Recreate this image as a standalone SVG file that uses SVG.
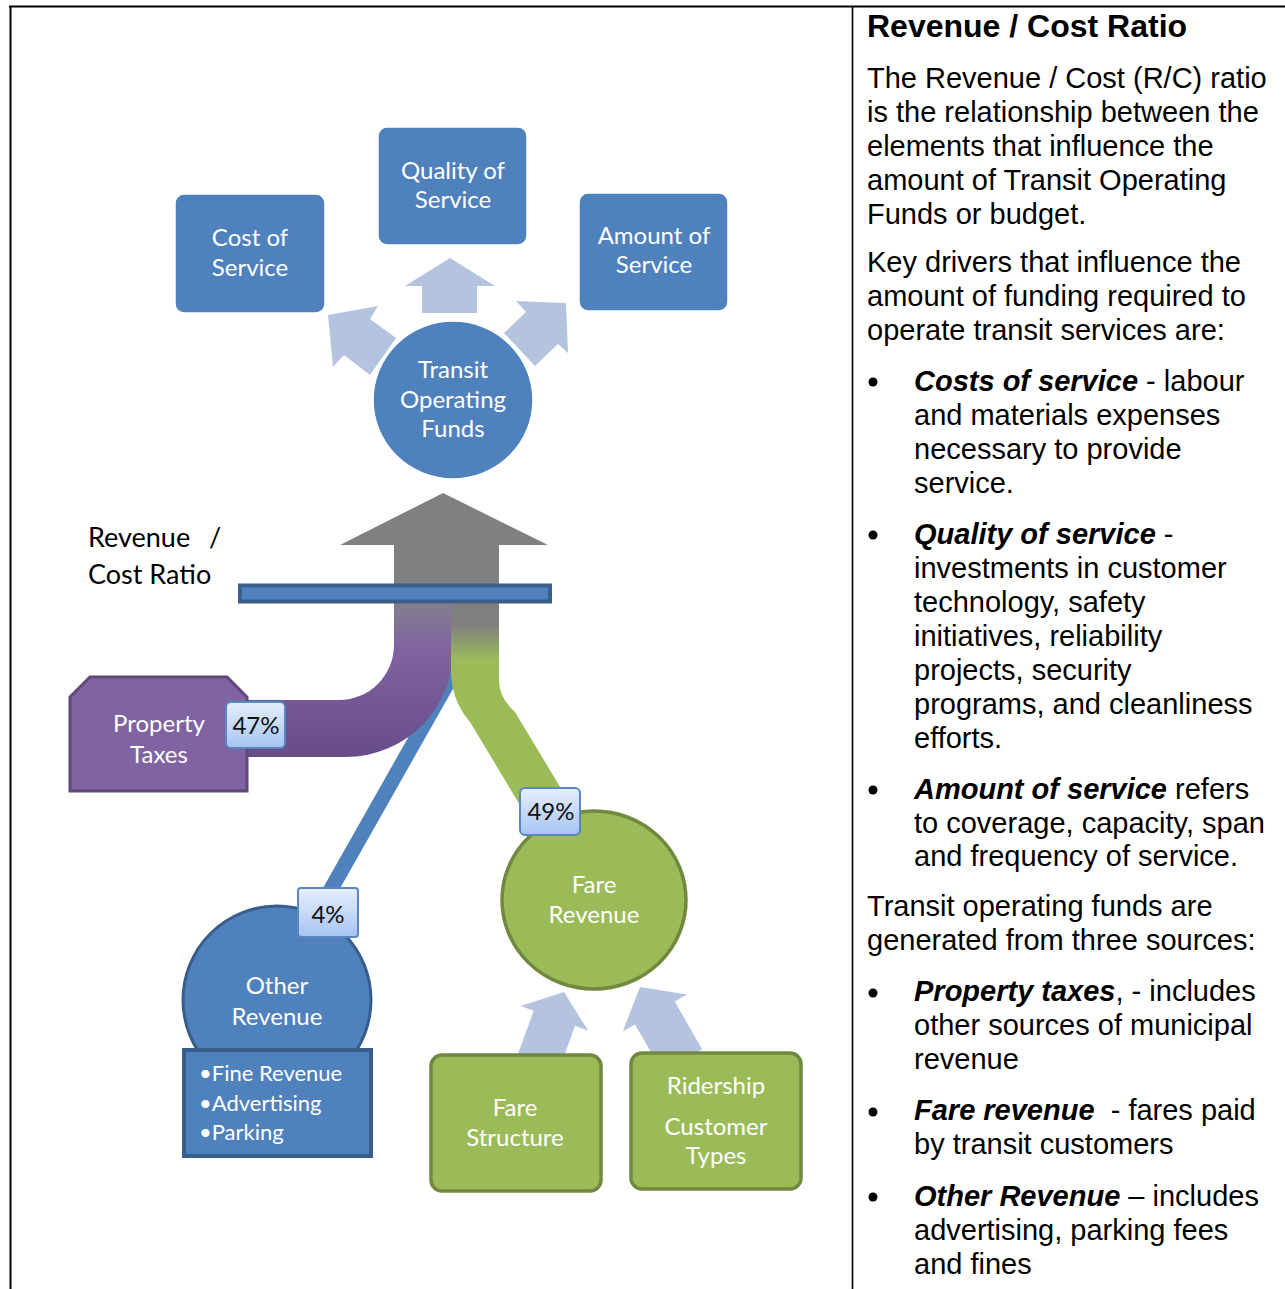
<svg xmlns="http://www.w3.org/2000/svg" width="1285" height="1289" viewBox="0 0 1285 1289">
<defs>
<linearGradient id="gPurple" gradientUnits="userSpaceOnUse" x1="0" y1="600" x2="0" y2="757">
<stop offset="0" stop-color="#84808a"/>
<stop offset="0.3" stop-color="#8064A2"/>
<stop offset="1" stop-color="#684c88"/>
</linearGradient>
<linearGradient id="gGreen" gradientUnits="userSpaceOnUse" x1="0" y1="600" x2="0" y2="700">
<stop offset="0" stop-color="#808080"/>
<stop offset="0.25" stop-color="#808080"/>
<stop offset="0.6" stop-color="#9BBB59"/>
<stop offset="1" stop-color="#9BBB59"/>
</linearGradient>
<linearGradient id="gLabel" x1="0" y1="0" x2="0" y2="1">
<stop offset="0" stop-color="#e6effc"/>
<stop offset="1" stop-color="#a6c4f2"/>
</linearGradient>
</defs>
<style>
.frame{stroke:#000;fill:none}
.blue{fill:#4F81BD;stroke:#fff;stroke-width:1.5}
.blueC{fill:#4F81BD;stroke:#385D8A;stroke-width:3}
.green{fill:#9BBB59;stroke:#71893F;stroke-width:3.5}
.lite{fill:#B4C4DF}
.wt{font-family:Lato,"Open Sans",sans-serif;font-size:24px;fill:#fff;text-anchor:middle}
.wl{font-family:Lato,"Open Sans",sans-serif;font-size:22px;fill:#fff}
.bk{font-family:Lato,"Open Sans",sans-serif;font-size:27px;fill:#000}
.lab{fill:url(#gLabel);stroke:#5a86c2;stroke-width:2}
.lt{font-family:Lato,"Open Sans",sans-serif;font-size:24px;fill:#111;text-anchor:middle}
.rt{font-family:"Liberation Sans",Arial,sans-serif;font-size:29px;fill:#000}
.title{font-size:32px;font-weight:bold}
.bi{font-weight:bold;font-style:italic}
</style>

<g id="frame">
<line class="frame" x1="9" y1="6.5" x2="1285" y2="6.5" stroke-width="2"/>
<line class="frame" x1="10.5" y1="6" x2="10.5" y2="1289" stroke-width="2"/>
<line class="frame" x1="852.5" y1="6" x2="852.5" y2="1289" stroke-width="1.6"/>
</g>

<g id="connectors">
<polygon class="lite" points="450,258 495,286 477,286 477,313 422,313 422,286 405,286"/>
<polygon class="lite" points="328,315 378,306 370,319 396,338 370,375 344,355 333,367"/>
<polygon class="lite" points="566,303 568,353 558,344 535,366 504,333 526,312 516,301"/>
<polygon class="lite" points="564,992 588.2,1030.7 575.1,1025.8 557.3,1074.6 515.9,1059.6 533.7,1010.8 520.6,1006"/>
<polygon class="lite" points="640,987 687.1,994.6 674.8,1001.6 702.1,1049.3 662.3,1072.1 635,1024.4 622.8,1031.4"/>
<line x1="455" y1="670" x2="322" y2="905" stroke="#4F81BD" stroke-width="15"/>
<polygon fill="#808080" points="443,493 548,545 499,545 499,606 394,606 394,545 340,545"/>
<path fill="url(#gPurple)" d="M394 600 L453 600 L453 650 A107 107 0 0 1 346 757 L247 757 L247 700 L339 700 A55 55 0 0 0 394 645 Z"/>
<path fill="url(#gGreen)" d="M451 600 L499 600 L499 680 Q499 698 515 712 L586 830 L535 830 L470 722 Q451 700 451 670 Z"/>
<rect x="240" y="585.5" width="310" height="16" fill="#4F81BD" stroke="#3A5F8B" stroke-width="4"/>
</g>

<g id="cost-of-service">
<rect class="blue" x="175" y="194" width="150" height="119" rx="9"/>
<text class="wt" x="250" y="246">Cost of</text>
<text class="wt" x="250" y="276">Service</text>
</g>
<g id="quality-of-service">
<rect class="blue" x="378" y="127" width="149" height="118" rx="9"/>
<text class="wt" x="453" y="179">Quality of</text>
<text class="wt" x="453" y="208">Service</text>
</g>
<g id="amount-of-service">
<rect class="blue" x="579" y="193" width="149" height="118" rx="9"/>
<text class="wt" x="654" y="244">Amount of</text>
<text class="wt" x="654" y="273">Service</text>
</g>
<g id="transit-operating-funds">
<ellipse class="blue" cx="453" cy="400" rx="80" ry="79"/>
<text class="wt" x="453" y="378">Transit</text>
<text class="wt" x="453" y="408">Operating</text>
<text class="wt" x="453" y="437">Funds</text>
</g>

<g id="rc-label">
<text class="bk" x="88" y="547">Revenue <tspan x="209">/</tspan></text>
<text class="bk" x="88" y="584">Cost Ratio</text>
</g>

<g id="property-taxes">
<path d="M70 697 L90 677 L227 677 L247 697 L247 791 L70 791 Z" fill="#8064A2" stroke="#5F497A" stroke-width="3"/>
<text class="wt" x="159" y="732">Property</text>
<text class="wt" x="159" y="763">Taxes</text>
</g>

<g id="fare-revenue">
<ellipse class="green" cx="594" cy="900" rx="92" ry="89"/>
<text class="wt" x="594" y="893">Fare</text>
<text class="wt" x="594" y="923">Revenue</text>
</g>

<g id="other-revenue">
<circle cx="277" cy="1000" r="94" class="blueC"/>
<text class="wt" x="277" y="994">Other</text>
<text class="wt" x="277" y="1025">Revenue</text>
<rect x="184" y="1050" width="187" height="106" fill="#4F81BD" stroke="#385D8A" stroke-width="4"/>
<text class="wl" x="199" y="1081">•Fine Revenue</text>
<text class="wl" x="199" y="1111">•Advertising</text>
<text class="wl" x="199" y="1140">•Parking</text>
</g>

<g id="fare-structure">
<rect class="green" x="431" y="1055" width="170" height="136" rx="11"/>
<text class="wt" x="515" y="1116">Fare</text>
<text class="wt" x="515" y="1146">Structure</text>
</g>
<g id="ridership">
<rect class="green" x="631" y="1053" width="170" height="136" rx="11"/>
<text class="wt" x="716" y="1094">Ridership</text>
<text class="wt" x="716" y="1135">Customer</text>
<text class="wt" x="716" y="1164">Types</text>
</g>

<g id="pct-47">
<rect class="lab" x="226" y="702" width="59" height="46" rx="5"/>
<text class="lt" x="256" y="734">47%</text>
</g>
<g id="pct-49">
<rect class="lab" x="520" y="788" width="60" height="47" rx="5"/>
<text class="lt" x="551" y="820">49%</text>
</g>
<g id="pct-4">
<rect class="lab" x="298" y="888" width="60" height="49" rx="3"/>
<text class="lt" x="328" y="923">4%</text>
</g>

<g id="text-panel">
<text class="rt title" x="867" y="37">Revenue / Cost Ratio</text>
<text class="rt" x="867" y="88">The Revenue / Cost (R/C) ratio</text>
<text class="rt" x="867" y="122">is the relationship between the</text>
<text class="rt" x="867" y="156">elements that influence the</text>
<text class="rt" x="867" y="190">amount of Transit Operating</text>
<text class="rt" x="867" y="224">Funds or budget.</text>
<text class="rt" x="867" y="272">Key drivers that influence the</text>
<text class="rt" x="867" y="306">amount of funding required to</text>
<text class="rt" x="867" y="340">operate transit services are:</text>
<circle cx="873" cy="382" r="4.5"/>
<text class="rt" x="914" y="391"><tspan class="bi">Costs of service</tspan> - labour</text>
<text class="rt" x="914" y="425">and materials expenses</text>
<text class="rt" x="914" y="459">necessary to provide</text>
<text class="rt" x="914" y="493">service.</text>
<circle cx="873" cy="535" r="4.5"/>
<text class="rt" x="914" y="544"><tspan class="bi">Quality of service</tspan> -</text>
<text class="rt" x="914" y="578">investments in customer</text>
<text class="rt" x="914" y="612">technology, safety</text>
<text class="rt" x="914" y="646">initiatives, reliability</text>
<text class="rt" x="914" y="680">projects, security</text>
<text class="rt" x="914" y="714">programs, and cleanliness</text>
<text class="rt" x="914" y="748">efforts.</text>
<circle cx="873" cy="790" r="4.5"/>
<text class="rt" x="914" y="799"><tspan class="bi">Amount of service</tspan> refers</text>
<text class="rt" x="914" y="833">to coverage, capacity, span</text>
<text class="rt" x="914" y="866">and frequency of service.</text>
<text class="rt" x="867" y="916">Transit operating funds are</text>
<text class="rt" x="867" y="950">generated from three sources:</text>
<circle cx="873" cy="993" r="4.5"/>
<text class="rt" x="914" y="1001"><tspan class="bi">Property taxes</tspan>, - includes</text>
<text class="rt" x="914" y="1035">other sources of municipal</text>
<text class="rt" x="914" y="1069">revenue</text>
<circle cx="873" cy="1112" r="4.5"/>
<text class="rt" x="914" y="1120" xml:space="preserve"><tspan class="bi">Fare revenue</tspan>  - fares paid</text>
<text class="rt" x="914" y="1154">by transit customers</text>
<circle cx="873" cy="1197" r="4.5"/>
<text class="rt" x="914" y="1206"><tspan class="bi">Other Revenue</tspan> – includes</text>
<text class="rt" x="914" y="1240">advertising, parking fees</text>
<text class="rt" x="914" y="1274">and fines</text>
</g>
</svg>
